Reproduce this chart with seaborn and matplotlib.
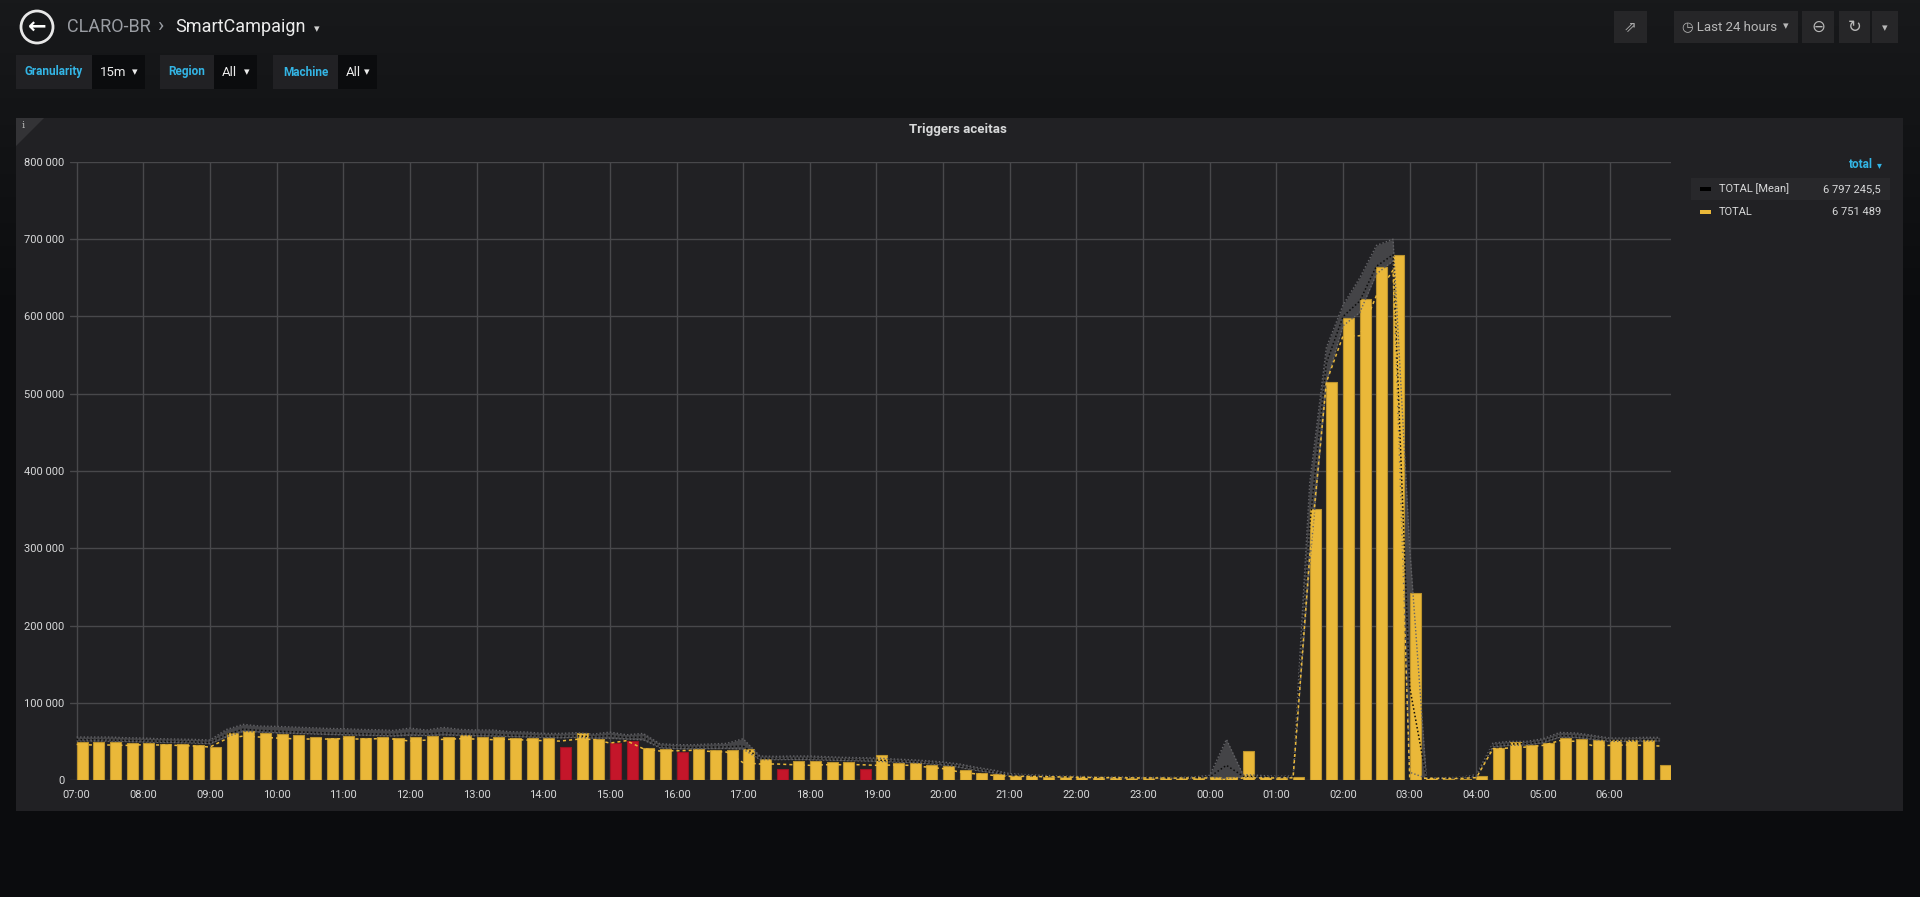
import numpy as np
import pandas as pd
import seaborn as sns
import matplotlib.pyplot as plt
from matplotlib.patches import Rectangle, Polygon, Ellipse
from matplotlib.colors import LinearSegmentedColormap
from matplotlib.ticker import FuncFormatter

# one value per 15 minutes, starting 07:00, values in thousands
total = [49.6, 48.7, 48.7, 47.4,
         47.8, 46.6, 47.0, 45.7,
         42.2, 61.2, 63.8, 60.8,
         59.0, 57.8, 56.0, 54.7,
         56.9, 54.7, 55.6, 54.3,
         56.0, 56.5, 56.0, 58.2,
         56.0, 56.0, 54.7, 54.7,
         54.3, 43.1, 61.2, 53.0,
         47.4, 50.9, 41.8, 40.5,
         36.2, 40.5, 39.2, 38.8,
         40.5, 27.6, 14.7, 25.0,
         24.6, 23.7, 23.7, 14.7,
         32.8, 22.0, 21.6, 19.8,
         18.1, 13.4, 9.1, 7.8,
         5.6, 5.2, 4.3, 4.3,
         4.3, 3.9, 3.4, 3.0,
         2.6, 2.2, 2.2, 2.6,
         3.4, 3.9, 37.9, 3.4,
         3.0, 3.9, 350.5, 515.5,
         598.0, 622.5, 663.5, 679.0,
         242.0, 2.6, 1.7, 1.3,
         5.2, 41.8, 48.7, 45.3,
         47.4, 54.7, 52.6, 51.3,
         52.2, 52.2, 52.2, 19.4]

mean_upper = [55.6, 55.6, 55.6, 54.7,
              54.3, 53.4, 53.0, 52.6,
              51.7, 65.5, 72.0, 69.8,
              69.4, 68.5, 67.7, 66.8,
              66.4, 65.5, 65.1, 64.2,
              67.2, 64.7, 68.1, 65.5,
              64.7, 64.7, 62.5, 62.1,
              60.3, 60.3, 61.2, 59.5,
              62.0, 58.6, 60.3, 47.0,
              45.7, 45.7, 46.6, 47.4,
              53.4, 31.0, 30.6, 31.0,
              31.0, 30.2, 29.3, 28.9,
              28.4, 27.2, 26.3, 25.0,
              23.3, 20.7, 16.4, 12.9,
              8.2, 6.9, 6.0, 5.2,
              4.7, 4.3, 3.9, 3.9,
              3.4, 3.4, 3.4, 3.9,
              6.0, 52.6, 6.9, 6.0,
              4.7, 5.2, 385.0, 560.0,
              615.0, 650.0, 692.0, 700.0,
              300.0, 3.0, 3.0, 3.4,
              6.9, 47.8, 50.0, 50.0,
              53.4, 61.6, 60.8, 57.8,
              54.3, 54.3, 55.2, 55.2]

mean_line = [52.2, 52.0, 51.8, 51.2,
             50.8, 50.2, 49.8, 49.4,
             48.5, 59.0, 65.8, 64.2,
             63.2, 62.4, 61.8, 61.0,
             60.6, 60.0, 59.6, 59.0,
             60.8, 59.5, 61.2, 59.8,
             59.2, 59.0, 58.0, 57.6,
             56.8, 56.4, 57.2, 56.0,
             57.4, 55.0, 55.6, 43.6,
             42.4, 42.2, 42.6, 43.0,
             44.0, 28.0, 28.0, 28.2,
             28.0, 27.4, 26.8, 26.4,
             25.8, 24.8, 24.0, 22.6,
             21.0, 18.0, 14.0, 10.8,
             6.8, 5.8, 5.0, 4.4,
             4.0, 3.6, 3.3, 3.2,
             2.9, 2.8, 2.8, 3.0,
             4.2, 19.0, 5.0, 4.4,
             3.8, 4.2, 330.0, 540.0,
             600.0, 620.0, 665.0, 680.0,
             120.0, 2.6, 2.5, 2.8,
             5.6, 44.8, 46.6, 47.0,
             50.0, 57.4, 57.0, 54.4,
             51.6, 51.6, 52.0, 52.2]

mean_lower = [50.8, 50.6, 50.4, 49.8,
              49.4, 48.8, 48.4, 48.0,
              47.0, 56.0, 63.0, 62.0,
              61.2, 60.4, 59.8, 59.0,
              58.6, 58.0, 57.6, 57.0,
              58.0, 57.6, 58.4, 57.8,
              57.2, 57.0, 56.2, 55.8,
              55.0, 54.6, 55.2, 54.2,
              54.0, 53.0, 52.0, 41.8,
              40.6, 40.4, 40.8, 41.0,
              40.0, 26.4, 26.4, 26.6,
              26.4, 25.8, 25.2, 24.8,
              24.2, 23.4, 22.6, 21.2,
              19.6, 16.4, 12.4, 9.4,
              6.0, 5.0, 4.4, 3.8,
              3.4, 3.1, 2.9, 2.8,
              2.5, 2.4, 2.4, 2.6,
              3.2, 2.0, 3.6, 3.4,
              3.2, 3.4, 280.0, 515.0,
              588.0, 605.0, 655.0, 672.0,
              10.0, 2.2, 2.0, 2.3,
              4.6, 42.8, 45.0, 45.2,
              48.2, 55.4, 55.0, 52.6,
              50.0, 50.0, 50.4, 50.6]

total_trend = [46.1, 45.3, 45.3, 44.8,
               45.7, 45.3, 44.8, 44.0,
               42.7, 53.4, 56.9, 55.6,
               54.3, 53.4, 53.0, 53.0,
               53.4, 53.0, 53.4, 53.0,
               50.4, 51.7, 52.6, 53.4,
               53.0, 52.2, 52.6, 51.7,
               50.9, 50.4, 52.6, 52.6,
               47.8, 50.9, 40.5, 37.5,
               37.9, 38.4, 37.0, 36.2,
               22.4, 20.7, 20.7, 19.8,
               19.0, 19.8, 19.8, 19.8,
               19.0, 19.4, 19.0, 16.8,
               14.7, 10.3, 7.8, 6.0,
               4.7, 4.7, 4.3, 4.0,
               3.6, 3.2, 3.0, 2.8,
               2.6, 2.6, 2.4, 2.6,
               2.6, 0.4, 2.6, 2.6,
               2.6, 2.8, 290.0, 515.0,
               575.0, 575.0, 627.0, 660.0,
               2.0, 2.2, 2.0, 2.0,
               3.0, 40.5, 41.4, 42.7,
               44.8, 50.9, 50.0, 44.4,
               44.8, 45.3, 44.8, 44.0]

alert_slots = ['14:15', '15:00', '15:15', '16:00', '17:30', '18:45']

hour_labels = ['07:00', '08:00', '09:00', '10:00', '11:00', '12:00', '13:00', '14:00',
               '15:00', '16:00', '17:00', '18:00', '19:00', '20:00', '21:00', '22:00',
               '23:00', '00:00', '01:00', '02:00', '03:00', '04:00', '05:00', '06:00']

legend_names = ['TOTAL [Mean]', 'TOTAL']
legend_values = ['6 797 245,5', '6 751 489']

PAGE_TOP = '#18191b'
PAGE_BOTTOM = '#0b0c0e'
PANEL_BG = '#212124'
GRID = '#48484b'
TEXT = '#d8d9da'
BLUE = '#33b5e5'
YELLOW = '#EAB839'
RED = '#C4162A'
BAR_W = 0.66

W, H = 1920, 897


def fx(px):
    return px / W


def fy(py):
    return 1 - py / H


def box(x0, y0, x1, y1, color, z=-5):
    fig.add_artist(Rectangle((fx(x0), fy(y1)), fx(x1) - fx(x0), fy(y0) - fy(y1),
                             transform=fig.transFigure, facecolor=color,
                             edgecolor='none', zorder=z))


sns.set_theme(style='dark')
plt.rcParams['font.family'] = ['Roboto', 'DejaVu Sans']

fig = plt.figure(figsize=(W / 100, H / 100), dpi=100, facecolor=PAGE_BOTTOM)

# page background, dark gradient towards the bottom
bg = fig.add_axes([0, 0, 1, 1], zorder=-10)
grad = np.clip(np.linspace(0, H / 320, 200), 0, 1).reshape(-1, 1)
bg.imshow(grad, aspect='auto', extent=[0, 1, 0, 1],
          cmap=LinearSegmentedColormap.from_list('page', [PAGE_TOP, PAGE_BOTTOM]))
bg.axis('off')

# ---- header ----
fig.add_artist(Ellipse((fx(37), fy(27)), 32 / W, 32 / H, transform=fig.transFigure,
                       facecolor='none', edgecolor='#e8e8e8', lw=2))
fig.text(fx(37), fy(27), '\u2190', color='white', fontsize=16, fontweight='bold',
         ha='center', va='center', family='DejaVu Sans')
fig.text(fx(67), fy(27), 'CLARO-BR', color='#9a9da3', fontsize=13, va='center')
fig.text(fx(160), fy(27), '\u203a', color='#9a9da3', fontsize=15, va='center', ha='center')
fig.text(fx(175), fy(27), 'SmartCampaign', color='#ececec', fontsize=13, va='center')
fig.text(fx(317), fy(29), '\u25be', color='#d0d0d0', fontsize=8, va='center', ha='center',
         family='DejaVu Sans')

for lab, val, x0, xm, x1 in [('Granularity', '15m', 16, 92, 145),
                             ('Region', 'All', 160, 214, 257),
                             ('Machine', 'All', 273, 338, 377)]:
    box(x0, 55, xm, 89, '#212124')
    box(xm, 55, x1, 89, '#0b0c0e', z=-4)
    fig.text(fx((x0 + xm) / 2), fy(72), lab, color=BLUE, fontsize=8.5, fontweight='bold',
             ha='center', va='center')
    fig.text(fx(xm + 8), fy(72), val, color='#ececec', fontsize=9.5, va='center')
    fig.text(fx(x1 - 10), fy(72), '\u25be', color='#ececec', fontsize=8, va='center',
             ha='center', family='DejaVu Sans')

box(1614, 11, 1647, 43, '#262628')
fig.text(fx(1630), fy(27), '\u21d7', color='#a8a8a8', fontsize=11, ha='center', va='center',
         family='DejaVu Sans')
box(1674, 11, 1798, 43, '#262628')
fig.text(fx(1682), fy(27), '\u25f7 Last 24 hours', color='#b8b8b8', fontsize=9.5, va='center',
         family=['Roboto', 'DejaVu Sans'])
fig.text(fx(1786), fy(26), '\u25be', color='#b8b8b8', fontsize=8, va='center', ha='center',
         family='DejaVu Sans')
box(1802, 11, 1834, 43, '#262628')
fig.text(fx(1818), fy(27), '\u2296', color='#b8b8b8', fontsize=12, ha='center', va='center',
         family='DejaVu Sans')
box(1839, 11, 1870, 43, '#262628')
box(1872, 11, 1898, 43, '#262628')
fig.text(fx(1855), fy(27), '\u21bb', color='#b8b8b8', fontsize=12, ha='center', va='center',
         family='DejaVu Sans')
fig.text(fx(1885), fy(28), '\u25be', color='#b8b8b8', fontsize=8, ha='center', va='center',
         family='DejaVu Sans')

# ---- panel ----
box(16, 118, 1903, 811, PANEL_BG, z=-6)
fig.add_artist(Polygon([(fx(16), fy(118)), (fx(44), fy(118)), (fx(16), fy(146))],
                       closed=True, transform=fig.transFigure, facecolor='#333336',
                       edgecolor='none', zorder=-4))
fig.text(fx(23), fy(125), 'i', color='#bbbbbb', fontsize=7, ha='center', va='center',
         family='DejaVu Serif')
fig.text(fx(958), fy(130), 'Triggers aceitas', color=TEXT, fontsize=9.5, fontweight='bold',
         ha='center', va='center')

# ---- chart ----
slots = pd.date_range('2019-01-01 07:00', periods=len(total), freq='15min').strftime('%H:%M')
hours = np.arange(len(total)) * 0.25
df = pd.DataFrame({
    'hours': hours,
    'bar_x': hours + BAR_W * 0.25 / 2,
    'total': np.array(total) * 1000,
    'upper': np.array(mean_upper) * 1000,
    'mean': np.array(mean_line) * 1000,
    'lower': np.array(mean_lower) * 1000,
    'trend': np.array(total_trend) * 1000,
    'state': ['alert' if s in alert_slots else 'ok' for s in slots],
})

ax = fig.add_axes([fx(70), fy(780), fx(1671) - fx(70), fy(162) - fy(780)])
ax.set_facecolor('none')

ax.fill_between(df['hours'], df['lower'], df['upper'], color='#444447', lw=0, zorder=1)

sns.barplot(data=df, x='bar_x', y='total', hue='state', hue_order=['ok', 'alert'],
            palette={'ok': YELLOW, 'alert': RED}, native_scale=True, width=BAR_W,
            dodge=False, legend=False, saturation=1, linewidth=0.8, zorder=2, ax=ax)
for p in ax.patches:
    fc = p.get_facecolor()
    p.set_edgecolor((fc[0] * 0.8, fc[1] * 0.8, fc[2] * 0.8, 1))

sns.lineplot(data=df, x='hours', y='upper', color='#646468', lw=1.0, ax=ax, zorder=3,
             linestyle=(0, (1, 1.5)))
sns.lineplot(data=df, x='hours', y='lower', color='#646468', lw=1.0, ax=ax, zorder=3,
             linestyle=(0, (1, 1.5)))
sns.lineplot(data=df, x='hours', y='mean', color='#0c0c0c', lw=1.1, ax=ax, zorder=3,
             linestyle=(0, (1, 1.5)))
sns.lineplot(data=df, x='hours', y='trend', color=YELLOW, lw=1.1, ax=ax, zorder=4,
             linestyle=(0, (2, 2)))

ax.set_xlim(-0.1, 23.92)
ax.set_ylim(0, 800000)
ax.set_xticks(np.arange(len(hour_labels)))
ax.set_xticklabels(hour_labels)
ax.set_yticks(np.arange(0, 800001, 100000))
ax.yaxis.set_major_formatter(FuncFormatter(lambda v, _: f'{int(v):,}'.replace(',', ' ')))
ax.set_xlabel('')
ax.set_ylabel('')
ax.grid(True, color=GRID, lw=1)
ax.set_axisbelow(True)
ax.tick_params(length=0, colors=TEXT, labelsize=8, pad=4)
ax.tick_params(axis='x', pad=7)
for s in ax.spines.values():
    s.set_visible(False)

# ---- legend ----
fig.text(fx(1873), fy(165), 'total', color=BLUE, fontsize=8.5, fontweight='bold',
         ha='right', va='center')
fig.text(fx(1879), fy(165), '\u25be', color=BLUE, fontsize=7, ha='center', va='center',
         family='DejaVu Sans')
box(1691, 178, 1890, 200, '#28282b', z=-3)
for i, (name, val, col) in enumerate(zip(legend_names, legend_values, ['#000000', YELLOW])):
    yy = 189 + i * 23
    fig.add_artist(Rectangle((fx(1700), fy(yy + 2)), 11 / W, 4 / H, transform=fig.transFigure,
                             facecolor=col, edgecolor='none'))
    fig.text(fx(1719), fy(yy), name, color=TEXT, fontsize=8, va='center')
    fig.text(fx(1881), fy(yy), val, color=TEXT, fontsize=8, va='center', ha='right')

fig.savefig('out.png', dpi=100, facecolor=PAGE_BOTTOM)
